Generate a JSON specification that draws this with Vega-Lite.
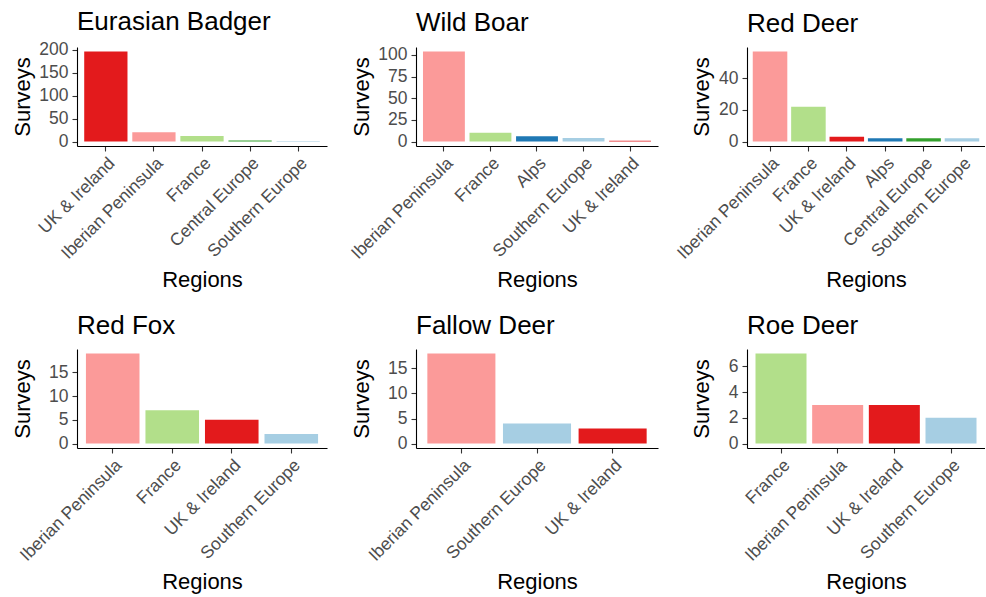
{
  "$schema": "https://vega.github.io/schema/vega-lite/v6.json",
  "background": "white",
  "padding": {"left": 11, "top": 8, "right": 0, "bottom": 5},
  "config": {
    "font": "Liberation Sans",
    "view": {"stroke": null},
    "axis": {
      "grid": false,
      "domainColor": "black",
      "domainWidth": 1.1,
      "tickColor": "#333333",
      "tickSize": 5,
      "tickWidth": 1.1,
      "labelColor": "#4D4D4D",
      "labelFontSize": 17.5,
      "labelFont": "Liberation Sans",
      "titleFont": "Liberation Sans",
      "titleFontSize": 22,
      "titleFontWeight": "normal",
      "titleColor": "black"
    },
    "axisX": {"labelAngle": -45, "labelAlign": "right", "labelBaseline": "top", "labelPadding": 3, "titlePadding": 8},
    "axisY": {"labelPadding": 4, "titlePadding": 6},
    "title": {"fontSize": 26, "fontWeight": "normal", "anchor": "start", "frame": "group", "color": "black", "offset": 10, "font": "Liberation Sans"}
  },
  "data": {
    "values": [
      {"species": "Eurasian Badger", "region": "UK & Ireland", "surveys": 196},
      {"species": "Eurasian Badger", "region": "Iberian Peninsula", "surveys": 20},
      {"species": "Eurasian Badger", "region": "France", "surveys": 12},
      {"species": "Eurasian Badger", "region": "Central Europe", "surveys": 2},
      {"species": "Eurasian Badger", "region": "Southern Europe", "surveys": 1},
      {"species": "Wild Boar", "region": "Iberian Peninsula", "surveys": 104},
      {"species": "Wild Boar", "region": "France", "surveys": 10},
      {"species": "Wild Boar", "region": "Alps", "surveys": 6},
      {"species": "Wild Boar", "region": "Southern Europe", "surveys": 4},
      {"species": "Wild Boar", "region": "UK & Ireland", "surveys": 1},
      {"species": "Red Deer", "region": "Iberian Peninsula", "surveys": 57},
      {"species": "Red Deer", "region": "France", "surveys": 22},
      {"species": "Red Deer", "region": "UK & Ireland", "surveys": 3},
      {"species": "Red Deer", "region": "Alps", "surveys": 2},
      {"species": "Red Deer", "region": "Central Europe", "surveys": 2},
      {"species": "Red Deer", "region": "Southern Europe", "surveys": 2},
      {"species": "Red Fox", "region": "Iberian Peninsula", "surveys": 19},
      {"species": "Red Fox", "region": "France", "surveys": 7},
      {"species": "Red Fox", "region": "UK & Ireland", "surveys": 5},
      {"species": "Red Fox", "region": "Southern Europe", "surveys": 2},
      {"species": "Fallow Deer", "region": "Iberian Peninsula", "surveys": 18},
      {"species": "Fallow Deer", "region": "Southern Europe", "surveys": 4},
      {"species": "Fallow Deer", "region": "UK & Ireland", "surveys": 3},
      {"species": "Roe Deer", "region": "France", "surveys": 7},
      {"species": "Roe Deer", "region": "Iberian Peninsula", "surveys": 3},
      {"species": "Roe Deer", "region": "UK & Ireland", "surveys": 3},
      {"species": "Roe Deer", "region": "Southern Europe", "surveys": 2}
    ]
  },
  "columns": 3,
  "spacing": {"row": 203, "column": 89},
  "bounds": "flush",
  "concat": [
    {
      "title": {"text": "Eurasian Badger", "offset": 6},
      "width": 250, "height": 99,
      "transform": [{"filter": "datum.species === 'Eurasian Badger'"}],
      "mark": {"type": "bar"},
      "encoding": {
        "x": {"field": "region", "type": "nominal", "title": "Regions",
              "sort": ["UK & Ireland", "Iberian Peninsula", "France", "Central Europe", "Southern Europe"],
              "scale": {"paddingInner": 0.1, "paddingOuter": 0.15}},
        "y": {"field": "surveys", "type": "quantitative", "title": "Surveys",
              "scale": {"domain": [-9.8, 205.8], "nice": false, "zero": false},
              "axis": {"values": [0, 50, 100, 150, 200], "minExtent": 37, "maxExtent": 37}},
        "y2": {"datum": 0},
        "color": {"field": "region", "type": "nominal", "legend": null,
                  "scale": {"domain": ["UK & Ireland", "Iberian Peninsula", "France", "Central Europe", "Southern Europe", "Alps"],
                            "range": ["#E31A1C", "#FB9A99", "#B2DF8A", "#33A02C", "#A6CEE3", "#1F78B4"]}}
      }
    },
    {
      "title": "Wild Boar",
      "width": 242, "height": 99,
      "transform": [{"filter": "datum.species === 'Wild Boar'"}],
      "mark": {"type": "bar"},
      "encoding": {
        "x": {"field": "region", "type": "nominal", "title": "Regions",
              "sort": ["Iberian Peninsula", "France", "Alps", "Southern Europe", "UK & Ireland"],
              "scale": {"paddingInner": 0.1, "paddingOuter": 0.15}},
        "y": {"field": "surveys", "type": "quantitative", "title": "Surveys",
              "scale": {"domain": [-5.2, 109.2], "nice": false, "zero": false},
              "axis": {"values": [0, 25, 50, 75, 100], "minExtent": 37, "maxExtent": 37}},
        "y2": {"datum": 0},
        "color": {"field": "region", "type": "nominal", "legend": null}
      }
    },
    {
      "title": "Red Deer",
      "width": 238, "height": 99,
      "transform": [{"filter": "datum.species === 'Red Deer'"}],
      "mark": {"type": "bar"},
      "encoding": {
        "x": {"field": "region", "type": "nominal", "title": "Regions",
              "sort": ["Iberian Peninsula", "France", "UK & Ireland", "Alps", "Central Europe", "Southern Europe"],
              "scale": {"paddingInner": 0.1, "paddingOuter": 0.15}},
        "y": {"field": "surveys", "type": "quantitative", "title": "Surveys",
              "scale": {"domain": [-2.85, 59.85], "nice": false, "zero": false},
              "axis": {"values": [0, 20, 40], "minExtent": 28, "maxExtent": 28}},
        "y2": {"datum": 0},
        "color": {"field": "region", "type": "nominal", "legend": null}
      }
    },
    {
      "title": "Red Fox",
      "width": 250, "height": 99,
      "transform": [{"filter": "datum.species === 'Red Fox'"}],
      "mark": {"type": "bar"},
      "encoding": {
        "x": {"field": "region", "type": "nominal", "title": "Regions",
              "sort": ["Iberian Peninsula", "France", "UK & Ireland", "Southern Europe"],
              "scale": {"paddingInner": 0.1, "paddingOuter": 0.15}},
        "y": {"field": "surveys", "type": "quantitative", "title": "Surveys",
              "scale": {"domain": [-0.95, 19.95], "nice": false, "zero": false},
              "axis": {"values": [0, 5, 10, 15], "minExtent": 37, "maxExtent": 37}},
        "y2": {"datum": 0},
        "color": {"field": "region", "type": "nominal", "legend": null}
      }
    },
    {
      "title": "Fallow Deer",
      "width": 242, "height": 99,
      "transform": [{"filter": "datum.species === 'Fallow Deer'"}],
      "mark": {"type": "bar"},
      "encoding": {
        "x": {"field": "region", "type": "nominal", "title": "Regions",
              "sort": ["Iberian Peninsula", "Southern Europe", "UK & Ireland"],
              "scale": {"paddingInner": 0.1, "paddingOuter": 0.15}},
        "y": {"field": "surveys", "type": "quantitative", "title": "Surveys",
              "scale": {"domain": [-0.9, 18.9], "nice": false, "zero": false},
              "axis": {"values": [0, 5, 10, 15], "minExtent": 37, "maxExtent": 37}},
        "y2": {"datum": 0},
        "color": {"field": "region", "type": "nominal", "legend": null}
      }
    },
    {
      "title": "Roe Deer",
      "width": 238, "height": 99,
      "transform": [{"filter": "datum.species === 'Roe Deer'"}],
      "mark": {"type": "bar"},
      "encoding": {
        "x": {"field": "region", "type": "nominal", "title": "Regions",
              "sort": ["France", "Iberian Peninsula", "UK & Ireland", "Southern Europe"],
              "scale": {"paddingInner": 0.1, "paddingOuter": 0.15}},
        "y": {"field": "surveys", "type": "quantitative", "title": "Surveys",
              "scale": {"domain": [-0.35, 7.35], "nice": false, "zero": false},
              "axis": {"values": [0, 2, 4, 6], "minExtent": 28, "maxExtent": 28}},
        "y2": {"datum": 0},
        "color": {"field": "region", "type": "nominal", "legend": null}
      }
    }
  ]
}
